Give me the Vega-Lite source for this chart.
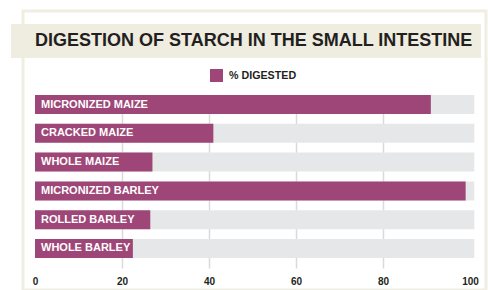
{
  "$schema": "https://vega.github.io/schema/vega-lite/v6.json",
  "width": 463,
  "height": 279,
  "autosize": {"type": "none"},
  "padding": {"left": 23, "top": 11, "right": 2, "bottom": 0},
  "background": "white",
  "config": {
    "view": {"stroke": "#f0eee3", "strokeWidth": 3},
    "font": "Liberation Sans"
  },
  "data": {
    "values": [
      {"feed": "MICRONIZED MAIZE", "digested": 91},
      {"feed": "CRACKED MAIZE", "digested": 41},
      {"feed": "WHOLE MAIZE", "digested": 27},
      {"feed": "MICRONIZED BARLEY", "digested": 99},
      {"feed": "ROLLED BARLEY", "digested": 26.5},
      {"feed": "WHOLE BARLEY", "digested": 22.5}
    ]
  },
  "encoding": {
    "y": {
      "field": "feed",
      "type": "nominal",
      "sort": null,
      "axis": null,
      "scale": {"range": [84, 257], "paddingInner": 0.34, "paddingOuter": 0.1736, "align": 0}
    }
  },
  "resolve": {"axis": {"x": "independent"}},
  "layer": [
    {
      "mark": {"type": "bar", "color": "#e6e7e8"},
      "encoding": {
        "x": {
          "datum": 0,
          "type": "quantitative",
          "scale": {"domain": [0, 100], "range": [12, 447]},
          "axis": {
            "orient": "bottom",
            "offset": -22,
            "values": [20, 40, 60, 80],
            "ticks": true,
            "tickSize": -173,
            "tickColor": "#dadada",
            "tickWidth": 1.5,
            "labels": false,
            "domain": false,
            "grid": false,
            "title": null,
            "zindex": 0
          }
        },
        "x2": {"datum": 101},
        "opacity": {
          "datum": "DIGESTION OF STARCH IN THE SMALL INTESTINE",
          "type": "nominal",
          "scale": {"range": [1]},
          "legend": {
            "orient": "none",
            "legendX": -12,
            "legendY": 13,
            "title": null,
            "fillColor": "#efece0",
            "padding": 8,
            "symbolType": "square",
            "symbolSize": 0,
            "symbolStrokeWidth": 0,
            "labelFont": "Liberation Sans",
            "labelFontWeight": "bold",
            "labelFontSize": 18,
            "labelColor": "#231f20",
            "labelOffset": -2,
            "labelLimit": 0
          }
        }
      }
    },
    {
      "mark": {"type": "bar"},
      "encoding": {
        "x": {
          "field": "digested",
          "type": "quantitative",
          "axis": {
            "orient": "bottom",
            "offset": -22,
            "values": [0, 20, 40, 60, 80, 100],
            "ticks": false,
            "tickSize": 0,
            "domain": false,
            "grid": false,
            "labelFont": "Liberation Sans",
            "labelFontWeight": "bold",
            "labelFontSize": 10,
            "labelColor": "#231f20",
            "labelPadding": 8,
            "labelFlush": false,
            "title": null
          }
        },
        "color": {
          "datum": "% DIGESTED",
          "type": "nominal",
          "scale": {"range": ["#9e4677"]},
          "legend": {
            "orient": "none",
            "legendX": 187,
            "legendY": 58,
            "title": null,
            "padding": 0,
            "symbolType": "square",
            "symbolSize": 169,
            "symbolStrokeWidth": 0,
            "labelFont": "Liberation Sans",
            "labelFontWeight": "bold",
            "labelFontSize": 10.7,
            "labelColor": "#231f20",
            "labelOffset": 6
          }
        }
      }
    },
    {
      "mark": {
        "type": "text",
        "align": "left",
        "baseline": "middle",
        "dx": 6,
        "color": "white",
        "font": "Liberation Sans",
        "fontWeight": "bold",
        "fontSize": 11
      },
      "encoding": {
        "x": {"datum": 0, "type": "quantitative", "axis": null},
        "text": {"field": "feed"}
      }
    }
  ]
}
